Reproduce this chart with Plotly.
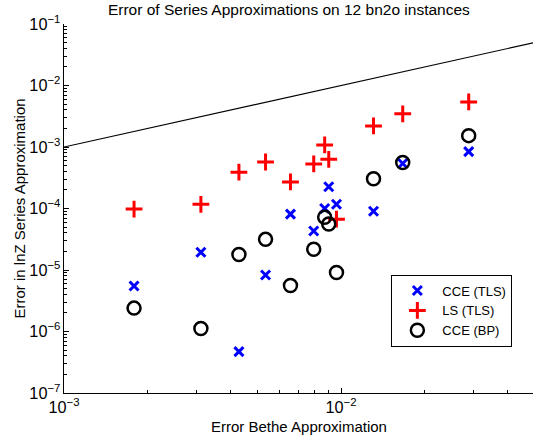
import plotly.graph_objects as go

# Bethe approximation error for the 12 bn2o instances
bethe_err = [1.79e-3, 3.12e-3, 4.28e-3, 5.34e-3, 6.57e-3, 7.97e-3,
             8.73e-3, 9.03e-3, 9.63e-3, 1.31e-2, 1.67e-2, 2.89e-2]
# errors in lnZ series approximation
cce_tls = [5.5e-6, 1.94e-5, 4.7e-7, 8.3e-6, 8.1e-5, 4.3e-5,
           1.0e-4, 2.26e-4, 1.17e-4, 9.0e-5, 5.4e-4, 8.4e-4]
ls_tls = [9.8e-5, 1.17e-4, 3.9e-4, 5.7e-4, 2.7e-4, 5.3e-4,
          1.08e-3, 6.3e-4, 6.7e-5, 2.2e-3, 3.46e-3, 5.4e-3]
cce_bp = [2.4e-6, 1.12e-6, 1.79e-5, 3.15e-5, 5.6e-6, 2.17e-5,
          7.2e-5, 5.6e-5, 9.1e-6, 3.05e-4, 5.6e-4, 1.53e-3]
# reference line y = x
ref_x = [1e-3, 0.0494]

font = "Liberation Sans, Arial, Helvetica, sans-serif"

fig = go.Figure()
fig.add_trace(go.Scatter(x=ref_x, y=ref_x, mode="lines",
                         line=dict(color="black", width=1.2), showlegend=False))
fig.add_trace(go.Scatter(x=bethe_err, y=cce_tls, mode="markers", name="CCE (TLS)",
                         marker=dict(symbol="x-thin", size=9,
                                     line=dict(color="#0000ff", width=3), color="#0000ff")))
fig.add_trace(go.Scatter(x=bethe_err, y=ls_tls, mode="markers", name="LS (TLS)",
                         marker=dict(symbol="cross-thin", size=12,
                                     line=dict(color="#ff0000", width=3), color="#ff0000")))
fig.add_trace(go.Scatter(x=bethe_err, y=cce_bp, mode="markers", name="CCE (BP)",
                         marker=dict(symbol="circle-open", size=13,
                                     line=dict(color="black", width=2.5), color="black")))

axis_common = dict(type="log", showgrid=False, zeroline=False, showline=True,
                   linecolor="black", linewidth=1, ticks="inside", ticklen=5,
                   tickcolor="black", dtick=1, exponentformat="power",
                   automargin=False,
                   tickfont=dict(family=font, size=13, color="black"),
                   minor=dict(ticks="inside", ticklen=3, tickcolor="black", showgrid=False))

fig.update_layout(
    width=540, height=438,
    paper_bgcolor="white", plot_bgcolor="white",
    margin=dict(l=64, r=7, t=24, b=45),
    font=dict(family=font, size=13, color="black"),
    title=dict(text="Error of Series Approximations on 12 bn2o instances",
               x=0.535, xanchor="center", y=1 - 9.5 / 438, yanchor="middle",
               font=dict(family=font, size=15.5, color="black")),
    xaxis=dict(axis_common, range=[-3, -1.307]),
    yaxis=dict(axis_common, range=[-7, -1]),
    legend=dict(x=0.698, y=0.321, xanchor="left", yanchor="top",
                bordercolor="black", borderwidth=1, bgcolor="white",
                font=dict(family=font, size=13), itemwidth=40),
    showlegend=True,
    annotations=[
        dict(text="Error Bethe Approximation", xref="paper", yref="paper",
             x=0.5, y=0, yshift=-33, xanchor="center", yanchor="middle",
             showarrow=False, font=dict(family=font, size=15)),
        dict(text="Error in lnZ Series Approximation", xref="paper", yref="paper",
             x=0, y=0.5, xshift=-45, xanchor="center", yanchor="middle",
             textangle=-90, showarrow=False, font=dict(family=font, size=15)),
    ],
)

fig.write_html("out.html", config={"displayModeBar": False},
               post_script="document.body.style.margin='0';document.body.style.overflow='hidden';")
